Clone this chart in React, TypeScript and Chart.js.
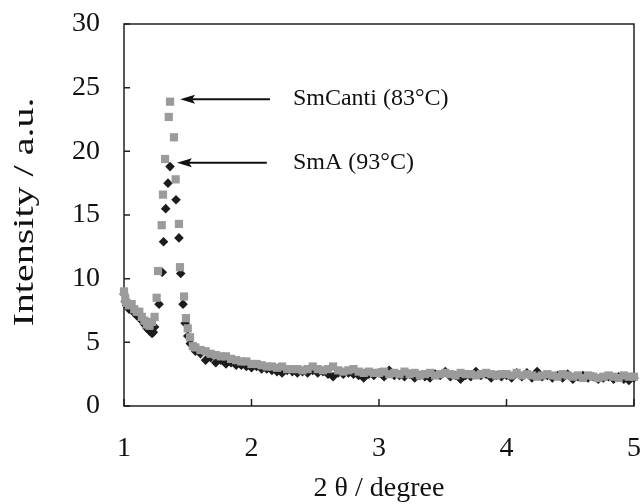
import React, { useEffect, useRef } from "react";
import { Chart, registerables } from "chart.js";

Chart.register(...registerables);

// ---- Data ----
// SmCanti (83°C) – gray squares
const grayLowX = [1.0, 1.01, 1.02, 1.04, 1.06, 1.08, 1.1, 1.12, 1.14, 1.16, 1.18, 1.2, 1.22, 1.24];
const grayLowY = [9.0, 8.4, 8.1, 7.9, 8.0, 7.6, 7.4, 7.4, 7.0, 6.7, 6.4, 6.3, 6.6, 7.0];
const grayPeakX = [1.256, 1.267, 1.296, 1.306, 1.322, 1.351, 1.361, 1.392, 1.405, 1.431, 1.439, 1.471, 1.486, 1.5, 1.518, 1.54];
const grayPeakY = [8.5, 10.6, 14.2, 16.6, 19.4, 22.7, 23.9, 21.1, 17.8, 14.3, 10.9, 8.6, 6.9, 6.1, 5.4, 4.7];

// SmA (93°C) – black diamonds
const blackLowX = [1.0, 1.01, 1.02, 1.04, 1.06, 1.08, 1.1, 1.12, 1.14, 1.16, 1.18, 1.2, 1.22, 1.23, 1.24];
const blackLowY = [8.8, 8.2, 7.9, 7.6, 7.7, 7.3, 7.1, 7.0, 6.7, 6.4, 6.1, 5.9, 5.7, 5.8, 6.2];
const blackPeakX = [1.275, 1.3, 1.31, 1.327, 1.345, 1.361, 1.408, 1.431, 1.445, 1.463, 1.48, 1.5, 1.52];
const blackPeakY = [8.0, 10.5, 12.9, 15.5, 17.5, 18.8, 16.2, 13.2, 10.4, 8.0, 6.5, 5.5, 4.9];

// Shared angles of the flat tail
const bandX = [
  1.56, 1.6, 1.64, 1.68, 1.72, 1.76, 1.8, 1.84, 1.88, 1.92,
  1.96, 2.0, 2.04, 2.08, 2.12, 2.16, 2.2, 2.24, 2.28, 2.32,
  2.36, 2.4, 2.44, 2.48, 2.52, 2.56, 2.6, 2.64, 2.68, 2.72,
  2.76, 2.8, 2.84, 2.88, 2.92, 2.96, 3.0, 3.04, 3.08, 3.12,
  3.16, 3.2, 3.24, 3.28, 3.32, 3.36, 3.4, 3.44, 3.48, 3.52,
  3.56, 3.6, 3.64, 3.68, 3.72, 3.76, 3.8, 3.84, 3.88, 3.92,
  3.96, 4.0, 4.04, 4.08, 4.12, 4.16, 4.2, 4.24, 4.28, 4.32,
  4.36, 4.4, 4.44, 4.48, 4.52, 4.56, 4.6, 4.64, 4.68, 4.72,
  4.76, 4.8, 4.84, 4.88, 4.92, 4.96, 5.0,
];
const grayBandY = [
  4.6, 4.4, 4.3, 4.1, 4.0, 3.9, 3.9, 3.7, 3.6, 3.5,
  3.5, 3.3, 3.3, 3.2, 3.1, 3.1, 3.0, 3.1, 2.9, 2.9,
  2.9, 2.8, 2.9, 3.1, 2.9, 2.8, 2.9, 3.1, 2.8, 2.7,
  2.8, 2.9, 2.7, 2.6, 2.7, 2.6, 2.6, 2.7, 2.5, 2.6,
  2.5, 2.7, 2.5, 2.6, 2.4, 2.5, 2.6, 2.4, 2.5, 2.6,
  2.5, 2.4, 2.6, 2.5, 2.5, 2.4, 2.5, 2.6, 2.5, 2.4,
  2.5, 2.5, 2.4, 2.6, 2.4, 2.5, 2.4, 2.3, 2.4, 2.5,
  2.4, 2.3, 2.5, 2.4, 2.3, 2.4, 2.2, 2.4, 2.3, 2.2,
  2.3, 2.4, 2.3, 2.2, 2.4, 2.3, 2.3,
];
const blackBandY = [
  4.3, 4.1, 3.6, 3.8, 3.4, 3.6, 3.3, 3.4, 3.2, 3.2,
  3.1, 3.0, 3.1, 2.9, 2.9, 2.8, 2.7, 2.6, 2.8, 2.7,
  2.6, 2.7, 2.6, 2.8, 2.6, 2.7, 2.5, 2.3, 2.6, 2.5,
  2.6, 2.5, 2.4, 2.2, 2.5, 2.4, 2.6, 2.3, 2.8, 2.4,
  2.4, 2.3, 2.5, 2.2, 2.4, 2.3, 2.2, 2.5, 2.4, 2.7,
  2.3, 2.4, 2.1, 2.4, 2.3, 2.7, 2.4, 2.5, 2.2, 2.4,
  2.3, 2.4, 2.2, 2.6, 2.3, 2.6, 2.2, 2.7, 2.3, 2.4,
  2.2, 2.4, 2.2, 2.5, 2.1, 2.3, 2.4, 2.2, 2.3, 2.1,
  2.2, 2.3, 2.1, 2.3, 2.1, 2.0, 2.2,
];

const xTickValues = [1, 2, 3, 4, 5];
const yTickValues = [0, 5, 10, 15, 20, 25, 30];

const xTitle = "2 θ / degree";
const yTitle = "Intensity / a.u.";

// Annotations
const noteLabels = ["SmCanti (83°C)", "SmA (93°C)"];
const noteHeadX = [1.44, 1.415];
const noteTailX = [2.145, 2.12];
const noteY = [24.1, 19.1];
const noteTextX = [2.325, 2.325];

const FONT = "'Liberation Serif', 'Times New Roman', serif";

const pts = (xs: number[], ys: number[]) => xs.map((x, i) => ({ x, y: ys[i] }));

const framePlugin = {
  id: "frameAndNotes",
  beforeDatasetsDraw(chart: any) {
    const { ctx, chartArea: a, scales } = chart;
    ctx.save();
    ctx.strokeStyle = "#222";
    ctx.lineWidth = 1.5;
    ctx.strokeRect(a.left, a.top, a.right - a.left, a.bottom - a.top);
    ctx.beginPath();
    for (const v of yTickValues) {
      const p = scales.y.getPixelForValue(v);
      ctx.moveTo(a.left, p);
      ctx.lineTo(a.left + 6, p);
    }
    for (const v of xTickValues) {
      const p = scales.x.getPixelForValue(v);
      ctx.moveTo(p, a.bottom);
      ctx.lineTo(p, a.bottom - 7);
    }
    ctx.stroke();
    ctx.restore();
  },
  afterDraw(chart: any) {
    const { ctx, chartArea: a, scales } = chart;
    ctx.save();
    ctx.fillStyle = "#111";
    ctx.strokeStyle = "#111";
    for (let i = 0; i < noteLabels.length; i++) {
      const hx = scales.x.getPixelForValue(noteHeadX[i]);
      const tx = scales.x.getPixelForValue(noteTailX[i]);
      const py = scales.y.getPixelForValue(noteY[i]);
      ctx.lineWidth = 2;
      ctx.beginPath();
      ctx.moveTo(tx, py);
      ctx.lineTo(hx + 10, py);
      ctx.stroke();
      ctx.beginPath();
      ctx.moveTo(hx, py);
      ctx.lineTo(hx + 15, py - 4.5);
      ctx.lineTo(hx + 12, py);
      ctx.lineTo(hx + 15, py + 4.5);
      ctx.closePath();
      ctx.fill();
      ctx.font = `24px ${FONT}`;
      ctx.textAlign = "left";
      ctx.textBaseline = "middle";
      ctx.fillText(noteLabels[i], scales.x.getPixelForValue(noteTextX[i]), py);
    }
    ctx.font = `28px ${FONT}`;
    ctx.textAlign = "center";
    ctx.textBaseline = "middle";
    ctx.fillText(xTitle, (a.left + a.right) / 2, 489);
    ctx.save();
    ctx.translate(25, (a.top + a.bottom) / 2 - 3);
    ctx.rotate(-Math.PI / 2);
    ctx.scale(1.38, 1);
    ctx.font = `29px ${FONT}`;
    ctx.fillText(yTitle, 0, 0);
    ctx.restore();
    ctx.restore();
  },
};

export default function App() {
  const ref = useRef<HTMLCanvasElement | null>(null);
  useEffect(() => {
    if (!ref.current) return;
    const chart = new Chart(ref.current, {
      type: "scatter",
      data: {
        datasets: [
          {
            label: "SmCanti (83°C)",
            data: [...pts(grayLowX, grayLowY), ...pts(grayPeakX, grayPeakY), ...pts(bandX, grayBandY)],
            pointStyle: "rect",
            pointRadius: 5.8,
            pointBorderWidth: 0,
            backgroundColor: "#9b9b9b",
            borderColor: "#9b9b9b",
            clip: false,
          },
          {
            label: "SmA (93°C)",
            data: [...pts(blackLowX, blackLowY), ...pts(blackPeakX, blackPeakY), ...pts(bandX, blackBandY)],
            pointStyle: "rectRot",
            pointRadius: 4.8,
            pointBorderWidth: 0,
            backgroundColor: "#1c1c1c",
            borderColor: "#1c1c1c",
            clip: false,
          },
        ],
      },
      options: {
        animation: false,
        responsive: false,
        events: [],
        layout: { padding: { top: 24, right: 8, left: 0, bottom: 0 } },
        plugins: { legend: { display: false }, tooltip: { enabled: false } },
        scales: {
          x: {
            type: "linear",
            min: 1,
            max: 5,
            afterFit: (s: any) => {
              s.height = 98;
              s.paddingLeft = 0;
              s.paddingRight = 0;
            },
            afterBuildTicks: (s: any) => { s.ticks = xTickValues.map((v) => ({ value: v })); },
            grid: { display: false, drawTicks: false },
            border: { display: false },
            ticks: { padding: 26, color: "#111", font: { family: FONT, size: 28 } },
          },
          y: {
            type: "linear",
            min: 0,
            max: 30,
            afterFit: (s: any) => {
              s.width = 124;
              s.paddingTop = 0;
              s.paddingBottom = 0;
            },
            afterBuildTicks: (s: any) => { s.ticks = yTickValues.map((v) => ({ value: v })); },
            grid: { display: false, drawTicks: false },
            border: { display: false },
            ticks: { padding: 24, color: "#111", font: { family: FONT, size: 28 } },
          },
        },
      },
      plugins: [framePlugin],
    });
    return () => chart.destroy();
  }, []);
  return (
    <div style={{ position: "fixed", left: 0, top: 0, width: 642, height: 504, background: "#fff" }}>
      <canvas ref={ref} width={642} height={504} style={{ width: 642, height: 504, display: "block" }} />
    </div>
  );
}
